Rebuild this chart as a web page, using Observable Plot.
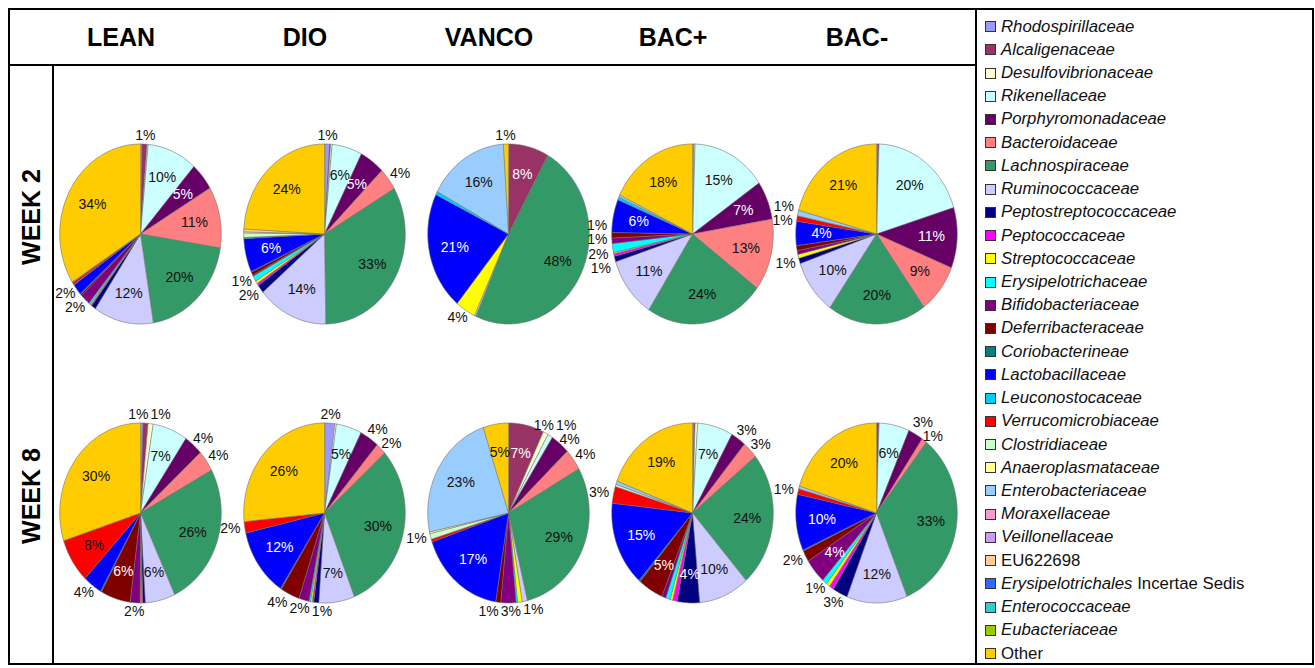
<!DOCTYPE html>
<html><head><meta charset="utf-8">
<script src="https://cdn.jsdelivr.net/npm/d3@7"></script>
<script src="https://cdn.jsdelivr.net/npm/@observablehq/plot@0.6"></script>
<style>
body{margin:0;background:#fff;font-family:"Liberation Sans",Arial,sans-serif;}
#wrap{position:relative;width:1315px;height:668px;overflow:hidden;background:#fff;}
#chart{position:absolute;left:8px;top:8px;}
.ln{position:absolute;background:#000;}
#legend{position:absolute;left:975px;top:8px;width:339px;height:657px;border:2px solid #000;box-sizing:border-box;padding-top:5px;}
.row{height:23.22px;display:flex;align-items:center;font-size:16.8px;color:#111;white-space:nowrap;}
.sw{display:inline-block;width:9px;height:9px;border:1px solid #333;margin-left:8px;margin-right:5px;}
</style></head>
<body><div id="wrap">
<div id="chart"></div>
<div class="ln" style="left:8px;top:8px;width:969px;height:2px"></div>
<div class="ln" style="left:8px;top:663px;width:969px;height:2px"></div>
<div class="ln" style="left:8px;top:8px;width:2px;height:657px"></div>
<div class="ln" style="left:8px;top:64px;width:969px;height:2px"></div>
<div class="ln" style="left:52px;top:64px;width:2px;height:601px"></div>
<div id="legend"></div>
</div>
<script>
// ---------- data ----------
const categories = ["Rhodospirillaceae","Alcaligenaceae","Desulfovibrionaceae","Rikenellaceae","Porphyromonadaceae","Bacteroidaceae","Lachnospiraceae","Ruminococcaceae","Peptostreptococcaceae","Peptococcaceae","Streptococcaceae","Erysipelotrichaceae","Bifidobacteriaceae","Deferribacteraceae","Coriobacterineae","Lactobacillaceae","Leuconostocaceae","Verrucomicrobiaceae","Clostridiaceae","Anaeroplasmataceae","Enterobacteriaceae","Moraxellaceae","Veillonellaceae","EU622698","Erysipelotrichales Incertae Sedis","Enterococcaceae","Eubacteriaceae","Other"];
const colors = ["#9999FF","#993366","#FFFFCC","#CCFFFF","#660066","#FF8080","#339966","#CCCCFF","#000080","#FF00FF","#FFFF00","#00FFFF","#800080","#800000","#008080","#0000FF","#00CCFF","#FF0000","#CCFFCC","#FFFF99","#99CCFF","#FF99CC","#CC99FF","#FFCC99","#3366FF","#33CCCC","#99CC00","#FFCC00"];
const groups = ["LEAN","DIO","VANCO","BAC+","BAC-"];
const weeks = ["WEEK 2","WEEK 8"];

// percentages per family, in category order
const lean2  = [0.3,1,0.2,10,5,11,20,12,0.9,0.2,0.2,0.3,2,0.3,0.1,2,0.1,0.4,0.1,0,0,0,0,0,0,0,0,34];
const dio2   = [1,0.2,0.3,6,5,4,33,14,1.5,0.4,0.5,1,0.2,0.6,0.1,6,0.1,0.1,0.8,0.2,0,0,0,0.5,0,0,0,24];
const vanco2 = [0,8,0,0,0,0,48,0.3,0,0,4,0,0,0,0,21,0.6,0,0,0,16,0,0,0,0,0,0,1];
const bacp2  = [0.3,0,0.2,15,7,13,24,11,1,0.5,0.2,1.6,1,1,0,6,0.5,0,0,0,0.4,0,0,0,0,0,0,18];
const bacm2  = [0.2,0.3,0,20,11,9,20,10,1,0,0.7,0,0.7,0.9,0,4.4,0,1,0,0,1,0,0,0,0,0,0,21];
const lean8  = [0.5,1,1,7,3.8,3.8,26,6,0.5,0.3,0.2,0,2,6,0.2,3.8,0,8,0,0,0,0,0,0,0,0,0,30];
const dio8   = [2,0,0.3,5,3.8,2,30,7,1,0.3,0.3,0.3,2,3.8,0.2,12,0,2,0,0,0,0,0,0,0,0,0,26];
const vanco8 = [0,7,1,1,3.8,3.8,29,1,0,0,0.9,0.3,3,1,0,17,0,0.5,1,0.3,23,0,0,0,0,0,0,5];
const bacp8  = [0.3,0.2,0.5,7,3,3,24,10,4.4,0.9,0.5,0.9,0.8,5,0.3,15,0,3,0.4,0,0.6,0,0,0,0,0,0,19];
const bacm8  = [0,0.5,0,6,3,1,33,12,3,0.9,0.7,1,4.4,2,0.2,10,0,1,0,0,0.5,0,0,0,0,0,0,20];

const pies = [
  {group:"LEAN", week:"WEEK 2", values:lean2},
  {group:"DIO", week:"WEEK 2", values:dio2},
  {group:"VANCO", week:"WEEK 2", values:vanco2},
  {group:"BAC+", week:"WEEK 2", values:bacp2},
  {group:"BAC-", week:"WEEK 2", values:bacm2},
  {group:"LEAN", week:"WEEK 8", values:lean8},
  {group:"DIO", week:"WEEK 8", values:dio8},
  {group:"VANCO", week:"WEEK 8", values:vanco8},
  {group:"BAC+", week:"WEEK 8", values:bacp8},
  {group:"BAC-", week:"WEEK 8", values:bacm8}
];

// ---------- layout ----------
const W = 969, H = 657;
const mL = 38.6, mR = 7.65, mT = 85.5, mB = 13.5;
const COLW = (W - mL - mR) / groups.length, ROWH = (H - mT - mB) / weeks.length;
const RX = 81, RY = 90;              // pie radii in pixels (pies are slightly elliptical)
const DX = COLW / 2 / RX, DY = ROWH / 2 / RY;
const INSIDE_MIN = 4.2;
const FONT = 14;

const isDark = c => d3.lab(c).l < 50;
const pie = d3.pie().sort(null).value(d => d.v);
const slicePts = [], inLabels = [], outLabels = [];
const textW = t => (t.length - 1) * 7.8 + 12.5 + 1;

for (const p of pies) {
  const arcs = pie(p.values.map((v, i) => ({v, i})));
  const outs = [];
  arcs.forEach(a => {
    const v = a.data.v, i = a.data.i;
    if (v <= 0) return;
    const cat = categories[i];
    const key = p.group + "|" + p.week + "|" + i;
    const span = a.endAngle - a.startAngle;
    const n = Math.max(2, Math.ceil(span / (Math.PI / 180)));
    slicePts.push({x: 0, y: 0, key, cat, fx: p.group, fy: p.week});
    for (let k = 0; k <= n; k++) {
      const t = a.startAngle + span * k / n;
      slicePts.push({x: Math.sin(t), y: Math.cos(t), key, cat, fx: p.group, fy: p.week});
    }
    if (v >= 1) {
      const text = Math.round(v) + "%";
      const m = (a.startAngle + a.endAngle) / 2;
      if (v >= INSIDE_MIN) {
        inLabels.push({x: 0.68 * Math.sin(m), y: 0.68 * Math.cos(m), text, dark: isDark(colors[i]), fx: p.group, fy: p.week});
      } else {
        const w = textW(text), h = 14;
        const ex = RX * Math.sin(m), ey = -RY * Math.cos(m);
        outs.push({m, text, w, h,
          px: ex + Math.sin(m) * (w / 2 + 4),
          py: ey - Math.cos(m) * (h / 2 + 2)});
      }
    }
  });
  // resolve overlaps between outside labels (pixel space relative to pie centre)
  for (let iter = 0; iter < 300; iter++) {
    let moved = false;
    for (let a = 0; a < outs.length; a++) for (let b = a + 1; b < outs.length; b++) {
      const A = outs[a], B = outs[b];
      const ox = (A.w + B.w) / 2 + 1 - Math.abs(A.px - B.px);
      const oy = (A.h + B.h) / 2 - Math.abs(A.py - B.py);
      if (ox > 0 && oy > 0) {
        moved = true;
        const mm = (A.m + B.m) / 2, c = Math.cos(mm), s = Math.sin(mm);
        const horiz = Math.abs(c) > 0.85 ? true : (Math.abs(s) > 0.7 ? false : ox < oy);
        if (horiz) {
          const d = c > 0 ? 1 : -1;
          A.px -= d * (ox / 2 + 0.1); B.px += d * (ox / 2 + 0.1);
        } else {
          const d = s > 0 ? 1 : -1;
          A.py -= d * (oy / 2 + 0.1); B.py += d * (oy / 2 + 0.1);
        }
      }
    }
    if (!moved) break;
  }
  for (const o of outs) outLabels.push({x: o.px / RX, y: -o.py / RY, text: o.text, fx: p.group, fy: p.week});
}

const chart = Plot.plot({
  width: W, height: H,
  marginLeft: mL, marginRight: mR, marginTop: mT, marginBottom: mB,
  style: {fontFamily: "Liberation Sans, Arial, sans-serif", background: "transparent", overflow: "visible"},
  fx: {domain: groups, padding: 0, axis: null},
  fy: {domain: weeks, padding: 0, axis: null},
  x: {domain: [-DX, DX], axis: null},
  y: {domain: [-DY, DY], axis: null},
  color: {domain: categories, range: colors},
  marks: [
    Plot.line(slicePts, {x: "x", y: "y", z: "key", fill: "cat", stroke: "#707070", strokeWidth: 0.6, curve: "linear-closed", fx: "fx", fy: "fy"}),
    Plot.text(inLabels.filter(d => !d.dark), {x: "x", y: "y", text: "text", fx: "fx", fy: "fy", fill: "#111", fontSize: FONT}),
    Plot.text(inLabels.filter(d => d.dark), {x: "x", y: "y", text: "text", fx: "fx", fy: "fy", fill: "#fff", fontSize: FONT}),
    Plot.text(outLabels, {x: "x", y: "y", text: "text", fx: "fx", fy: "fy", fill: "#111", fontSize: FONT}),
    Plot.text(groups, {fx: d => d, fy: () => "WEEK 2", frameAnchor: "top", lineAnchor: "middle", textAnchor: "middle", dy: -56.5, dx: -19.5, text: d => d, fontSize: 25, fontWeight: "bold", fill: "#000"}),
    Plot.text(weeks, {fy: d => d, fx: () => "LEAN", frameAnchor: "left", textAnchor: "middle", lineAnchor: "middle", rotate: -90, dx: -16.8, dy: -17, text: d => d, fontSize: 25, fontWeight: "bold", fill: "#000"})
  ]
});
document.getElementById("chart").appendChild(chart);

// ---------- legend ----------
const leg = document.getElementById("legend");
categories.forEach((c, i) => {
  const row = document.createElement("div");
  row.className = "row";
  const sw = document.createElement("span");
  sw.className = "sw";
  sw.style.background = colors[i];
  row.appendChild(sw);
  const t = document.createElement("span");
  if (c === "EU622698" || c === "Other") t.textContent = c;
  else if (c.endsWith(" Incertae Sedis")) t.innerHTML = "<i>" + c.replace(" Incertae Sedis", "") + "</i> Incertae Sedis";
  else t.innerHTML = "<i>" + c + "</i>";
  row.appendChild(t);
  leg.appendChild(row);
});
</script>
</body></html>
